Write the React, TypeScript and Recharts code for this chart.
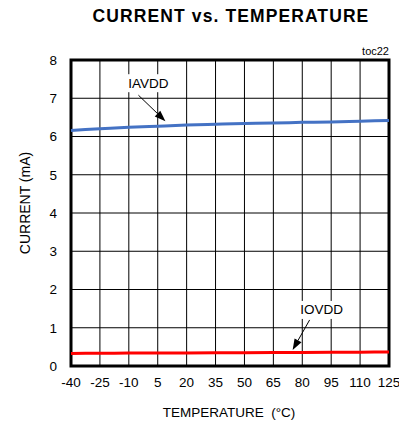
import React from "react";
import {
  LineChart,
  Line,
  XAxis,
  YAxis,
  CartesianGrid,
  ReferenceArea,
  ReferenceDot,
  Label,
} from "recharts";

const temps = [-40, -25, -10, 5, 20, 35, 50, 65, 80, 95, 110, 125];
const iavdd = [6.16, 6.2, 6.24, 6.27, 6.3, 6.32, 6.34, 6.35, 6.37, 6.38, 6.4, 6.42];
const iovdd = [0.33, 0.333, 0.337, 0.34, 0.343, 0.346, 0.349, 0.352, 0.355, 0.358, 0.362, 0.365];
const yTicks = [0, 1, 2, 3, 4, 5, 6, 7, 8];

const FONT = "'Liberation Sans', Arial, sans-serif";

const data = temps.map((t, i) => ({ temp: t, iavdd: iavdd[i], iovdd: iovdd[i] }));

// label box + arrow pointing at (cx, cy)
function callout(text: string, tx: number, ty: number, sx: number, sy: number) {
  return (props: any) => {
    const { cx, cy } = props;
    if (cx == null || cy == null) return null;
    const x0 = cx + sx;
    const y0 = cy + sy;
    const ang = Math.atan2(cy - y0, cx - x0);
    const len = 11;
    const hw = 4;
    const bx = cx - len * Math.cos(ang);
    const by = cy - len * Math.sin(ang);
    const px = -Math.sin(ang) * hw;
    const py = Math.cos(ang) * hw;
    return (
      <g>
        <rect x={cx + tx - 21} y={cy + ty - 9} width={42} height={18} fill="#fff" />
        <text
          x={cx + tx}
          y={cy + ty}
          textAnchor="middle"
          dominantBaseline="central"
          fontSize={13.5}
          fontFamily={FONT}
          fill="#000"
        >
          {text}
        </text>
        <line x1={x0} y1={y0} x2={bx} y2={by} stroke="#000" strokeWidth={1} />
        <polygon
          points={`${cx},${cy} ${bx + px},${by + py} ${bx - px},${by - py}`}
          fill="#000"
        />
      </g>
    );
  };
}

export default function App() {
  return (
    <div style={{ position: "absolute", left: 0, top: 0, width: 399, height: 424, background: "#fff" }}>
      <div
        style={{
          position: "absolute",
          left: 231,
          top: 8,
          transform: "translateX(-50%)",
          whiteSpace: "nowrap",
          fontFamily: FONT,
          fontWeight: "bold",
          fontSize: 17.5,
          lineHeight: "17px",
          letterSpacing: 1.1,
        }}
      >
        CURRENT vs. TEMPERATURE
      </div>
      <div
        style={{
          position: "absolute",
          right: 10,
          top: 46,
          fontFamily: FONT,
          fontSize: 11,
          lineHeight: "11px",
        }}
      >
        toc22
      </div>
      <LineChart width={399} height={424} data={data} margin={{ top: 60, right: 10, left: 0, bottom: 0 }}>
        <CartesianGrid stroke="#000" strokeWidth={1} />
        <XAxis
          dataKey="temp"
          type="number"
          domain={[-40, 125]}
          ticks={temps}
          interval={0}
          height={58}
          axisLine={false}
          tickLine={false}
          tickSize={0}
          tickMargin={11}
          tick={{ fill: "#000", fontSize: 13.5, fontFamily: FONT }}
        >
          <Label
            content={(p: any) => {
              const vb = p.viewBox;
              return (
                <text
                  x={vb.x + vb.width / 2 - 1}
                  y={vb.y + 51}
                  textAnchor="middle"
                  fontSize={13.5}
                  fontFamily={FONT}
                  fill="#000"
                  style={{ whiteSpace: "pre" }}
                >
                  {"TEMPERATURE  (°C)"}
                </text>
              );
            }}
          />
        </XAxis>
        <YAxis
          type="number"
          domain={[0, 8]}
          ticks={yTicks}
          interval={0}
          width={71}
          axisLine={false}
          tickLine={false}
          tickSize={0}
          tickMargin={14}
          tick={{ fill: "#000", fontSize: 13.5, fontFamily: FONT }}
        >
          <Label
            content={(p: any) => {
              const vb = p.viewBox;
              const x = vb.x + 25;
              const y = vb.y + vb.height / 2 - 10;
              return (
                <text
                  x={x}
                  y={y}
                  textAnchor="middle"
                  dominantBaseline="central"
                  transform={`rotate(-90, ${x}, ${y})`}
                  fontSize={14}
                  fontFamily={FONT}
                  fill="#000"
                >
                  CURRENT (mA)
                </text>
              );
            }}
          />
        </YAxis>
        <Line
          type="monotone"
          dataKey="iavdd"
          stroke="#4472C4"
          strokeWidth={3}
          dot={false}
          isAnimationActive={false}
        />
        <Line
          type="monotone"
          dataKey="iovdd"
          stroke="#FF0000"
          strokeWidth={3}
          dot={false}
          isAnimationActive={false}
        />
        <ReferenceArea
          x1={-40}
          x2={125}
          y1={0}
          y2={8}
          fill="none"
          stroke="#000"
          strokeWidth={3}
          ifOverflow="visible"
        />
        <ReferenceDot x={9} y={6.4} r={0} shape={callout("IAVDD", -17, -38, -27, -26)} ifOverflow="visible" />
        <ReferenceDot x={75} y={0.42} r={0} shape={callout("IOVDD", 29, -40, 17, -30)} ifOverflow="visible" />
      </LineChart>
    </div>
  );
}
